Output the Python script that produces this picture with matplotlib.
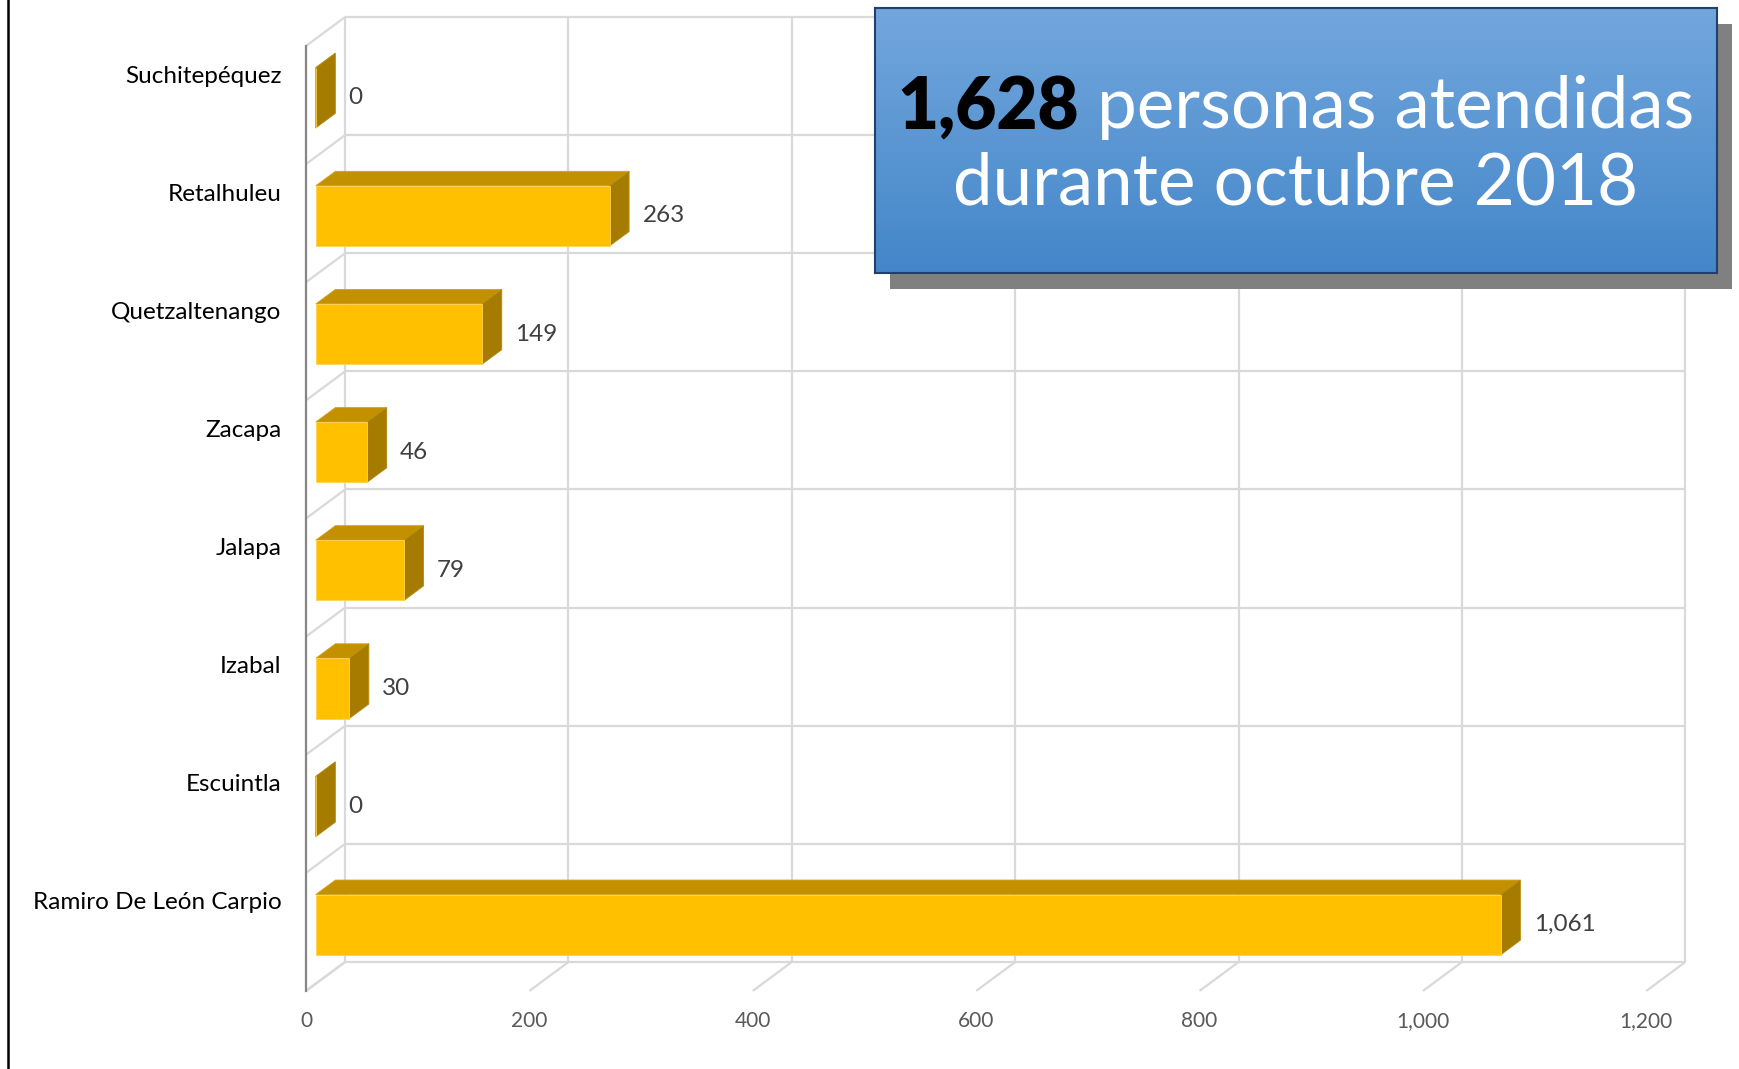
import matplotlib.pyplot as plt
from matplotlib.patches import Polygon, Rectangle
from matplotlib.lines import Line2D
import numpy as np

categorias = ["Ramiro De León Carpio", "Escuintla", "Izabal", "Jalapa",
              "Zacapa", "Quetzaltenango", "Retalhuleu", "Suchitepéquez"]
personas = [1061, 0, 30, 79, 46, 149, 263, 0]
ticks = [0, 200, 400, 600, 800, 1000, 1200]
tick_labels = ["0", "200", "400", "600", "800", "1,000", "1,200"]
total = "1,628"
titulo1 = " personas atendidas"
titulo2 = "durante octubre 2018"

plt.rcParams["font.family"] = ["Lato", "DejaVu Sans"]

W, H = 1739, 1069
fig = plt.figure(figsize=(W / 100, H / 100), dpi=100)
ax = fig.add_axes([0, 0, 1, 1])
ax.set_xlim(-309, 1248)
ax.set_ylim(-1.406, 7.644)
ax.axis("off")

# profundidad del efecto 3d
DX, DY = 35, 0.245
n = len(categorias)
lo, hi = -0.5, n - 0.5
xmax = ticks[-1]
grid = dict(color="#D9D9D9", lw=1.6, zorder=1, solid_capstyle="butt")

# pared del fondo, piso y pared lateral
for t in ticks:
    ax.plot([t, t], [lo, hi], **grid)
    ax.plot([t, t - DX], [lo, lo - DY], **grid)
for k in range(n + 1):
    y = lo + k
    ax.plot([0, xmax], [y, y], **grid)
    ax.plot([0, -DX], [y, y - DY], **grid)
ax.plot([-DX, -DX], [lo - DY, hi - DY], color="#868686", lw=1.6, zorder=2)

# barras
h = 0.255
fx, fy = -0.75 * DX, -0.75 * DY
bx, by = -0.25 * DX, -0.25 * DY
yc = np.arange(n)
ax.barh(yc + fy, personas, height=2 * h, left=fx, color="#FFC000",
        edgecolor="#FFD34F", lw=0.6, zorder=4)
for c, v in zip(yc, personas):
    top = [(fx, c + h + fy), (v + fx, c + h + fy), (v + bx, c + h + by), (bx, c + h + by)]
    side = [(v + fx, c - h + fy), (v + fx, c + h + fy), (v + bx, c + h + by), (v + bx, c - h + by)]
    ax.add_patch(Polygon(top, closed=True, fc="#C39100", ec="#D2A21C", lw=0.6, zorder=3))
    ax.add_patch(Polygon(side, closed=True, fc="#A67C00", ec="#B38A12", lw=0.6, zorder=3))
    ax.text(v + bx + 12, c + fy, f"{v:,}", fontsize=17.5, color="#404040",
            ha="left", va="center", zorder=6)

for c, name in zip(yc, categorias):
    ax.text(-57, c, name, fontsize=17.5, color="#000000", ha="right", va="center")

for t, lab in zip(ticks, tick_labels):
    ax.text(t - DX, -1.0, lab, fontsize=15, color="#595959", ha="center", va="center")

# linea negra a la izquierda
fig.add_artist(Line2D([8 / W, 8 / W], [0, 1], color="black", lw=1.8, zorder=3))

# recuadro del titulo
bl, bt, br, bb = 875, 8, 1717, 273
fig.add_artist(Rectangle(((bl + 15) / W, 1 - (bb + 16) / H), (br - bl) / W, (bb - bt) / H,
                         transform=fig.transFigure, fc="#808080", ec="none", zorder=1))
bax = fig.add_axes([bl / W, 1 - bb / H, (br - bl) / W, (bb - bt) / H], zorder=2)
top_c = np.array([0x72, 0xA7, 0xDD]) / 255
bot_c = np.array([0x44, 0x86, 0xC9]) / 255
g = np.linspace(0, 1, 256)[:, None, None]
grad = top_c * (1 - g) + bot_c * g
bax.imshow(grad, aspect="auto", extent=[0, 1, 0, 1])
bax.set_xticks([])
bax.set_yticks([])
for s in bax.spines.values():
    s.set_color("#22406B")
    s.set_linewidth(1.5)

t1 = bax.text(0, 0.547, total, fontsize=51, weight="heavy", color="black",
              transform=bax.transAxes, va="baseline")
t2 = bax.text(0, 0.547, titulo1, fontsize=51, color="white",
              transform=bax.transAxes, va="baseline")
bax.text(0.5, 0.257, titulo2, fontsize=51, color="white",
         transform=bax.transAxes, va="baseline", ha="center")
r = fig.canvas.get_renderer()
w1 = t1.get_window_extent(r).width
w2 = t2.get_window_extent(r).width
bw = bax.get_window_extent(r).width
x0 = (bw - w1 - w2) / 2 / bw
t1.set_x(x0)
t2.set_x(x0 + w1 / bw)

plt.savefig("out.png", dpi=100)
plt.close()
